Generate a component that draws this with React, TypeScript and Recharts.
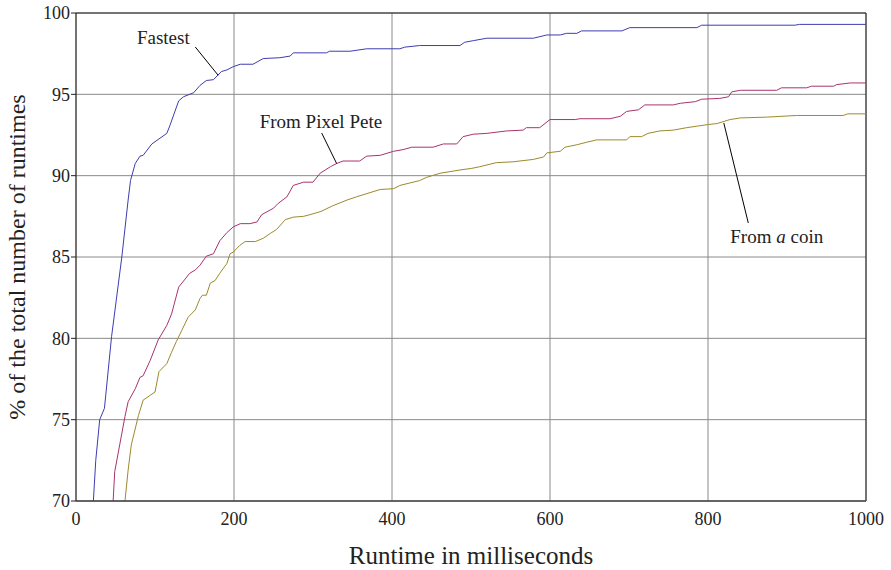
import { LineChart, Line, XAxis, YAxis, CartesianGrid, ReferenceLine, ReferenceDot } from 'recharts';

// runtime (ms) and cumulative % of runtimes
const fastestMs = [22, 25, 30, 36, 45, 58, 66, 69, 75, 81, 85, 96, 115, 119, 130, 136, 149, 157, 165, 174, 184, 191, 199, 208, 224, 237, 258, 271, 275, 317, 321, 347, 368, 410, 416, 435, 486, 492, 503, 520, 579, 596, 613, 621, 634, 640, 691, 701, 786, 792, 910, 916, 1000];
const fastestPct = [70, 72.5, 75.0, 75.7, 80.1, 85.0, 88.5, 89.7, 90.75, 91.2, 91.25, 91.95, 92.6, 93.1, 94.6, 94.85, 95.1, 95.55, 95.85, 95.9, 96.4, 96.5, 96.7, 96.85, 96.85, 97.2, 97.25, 97.35, 97.55, 97.55, 97.65, 97.65, 97.8, 97.8, 97.9, 98.0, 98.0, 98.2, 98.3, 98.45, 98.45, 98.65, 98.65, 98.75, 98.75, 98.9, 98.9, 99.1, 99.1, 99.25, 99.25, 99.3, 99.3];

const peteMs = [47, 49, 62, 66, 75, 81, 85, 94, 104, 115, 121, 130, 144, 151, 157, 165, 174, 182, 191, 199, 208, 220, 229, 235, 250, 256, 267, 275, 288, 300, 309, 322, 330, 338, 359, 368, 385, 402, 414, 425, 452, 465, 482, 490, 503, 520, 545, 566, 570, 587, 600, 632, 638, 676, 689, 697, 712, 720, 756, 765, 784, 792, 815, 826, 830, 841, 887, 893, 925, 931, 959, 963, 980, 1000];
const petePct = [70, 71.8, 75.2, 76.1, 76.9, 77.6, 77.7, 78.65, 79.9, 80.8, 81.5, 83.15, 84.0, 84.2, 84.5, 85.05, 85.2, 86.0, 86.5, 86.85, 87.05, 87.05, 87.15, 87.6, 88.0, 88.3, 88.7, 89.4, 89.6, 89.6, 90.15, 90.55, 90.75, 90.9, 90.9, 91.2, 91.25, 91.5, 91.6, 91.75, 91.75, 91.95, 91.95, 92.4, 92.55, 92.6, 92.75, 92.8, 92.95, 92.95, 93.45, 93.45, 93.5, 93.5, 93.65, 93.95, 94.05, 94.35, 94.35, 94.45, 94.55, 94.7, 94.75, 94.85, 95.15, 95.25, 95.25, 95.4, 95.4, 95.5, 95.5, 95.6, 95.7, 95.7];

const coinMs = [62, 66, 70, 79, 85, 94, 100, 105, 115, 121, 127, 134, 142, 151, 157, 160, 165, 170, 176, 182, 191, 195, 199, 207, 214, 227, 237, 246, 254, 265, 275, 288, 296, 310, 325, 343, 355, 385, 402, 410, 435, 444, 461, 486, 501, 511, 532, 553, 579, 592, 596, 613, 619, 634, 646, 659, 697, 701, 716, 724, 739, 756, 773, 787, 801, 811, 828, 841, 875, 912, 971, 977, 1000];
const coinPct = [70, 71.9, 73.45, 75.25, 76.2, 76.5, 76.7, 77.95, 78.45, 79.15, 79.8, 80.5, 81.3, 81.75, 82.45, 82.65, 82.65, 83.4, 83.55, 84.0, 84.6, 85.2, 85.3, 85.7, 85.95, 85.95, 86.15, 86.45, 86.7, 87.3, 87.45, 87.5, 87.6, 87.8, 88.15, 88.5, 88.7, 89.15, 89.2, 89.4, 89.7, 89.9, 90.15, 90.35, 90.45, 90.55, 90.8, 90.85, 91.0, 91.15, 91.4, 91.5, 91.75, 91.9, 92.05, 92.2, 92.2, 92.4, 92.4, 92.6, 92.75, 92.8, 92.95, 93.05, 93.15, 93.2, 93.45, 93.55, 93.6, 93.7, 93.7, 93.8, 93.8];

const xTicks = [0, 200, 400, 600, 800, 1000];
const yTicks = [70, 75, 80, 85, 90, 95, 100];

const FONT = '"Liberation Serif", Tinos, "Nimbus Roman", "DejaVu Serif", serif';
const INK = '#222';

const toPoints = (ms: number[], pct: number[]) => ms.map((t, i) => ({ t, v: pct[i] }));

// text label whose baseline centre sits on a reference dot; parts can be italic
function Note({ viewBox, parts }: any) {
  if (!viewBox) return null;
  const cx = viewBox.x + (viewBox.width || 0) / 2;
  const cy = viewBox.y + (viewBox.height || 0) / 2;
  return (
    <text x={cx} y={cy} textAnchor="middle" style={{ fontFamily: FONT }} fontSize={19} fill={INK}>
      {parts.map((p: { s: string; i?: boolean }, k: number) => (
        <tspan key={k} fontStyle={p.i ? 'italic' : 'normal'}>{p.s}</tspan>
      ))}
    </text>
  );
}

export default function App() {
  return (
    <div style={{ position: 'absolute', left: 0, top: 0, background: '#fff', fontFamily: FONT }}>
      <LineChart width={891} height={570} margin={{ top: 13, right: 25, bottom: 0, left: 0 }} style={{ fontFamily: FONT }}>
        <CartesianGrid stroke="#8a8a8a" strokeWidth={1} />
        <XAxis
          dataKey="t"
          type="number"
          domain={[0, 1000]}
          ticks={xTicks}
          height={69}
          tickLine={false}
          tickSize={0}
          tickMargin={11}
          axisLine={{ stroke: '#444', strokeWidth: 1.5 }}
          tick={{ fontSize: 18, fill: INK, style: { fontFamily: FONT } }}
          label={{ value: 'Runtime in milliseconds', position: 'insideBottom', offset: 6, style: { fontFamily: FONT, fontSize: 25, fill: INK } }}
        />
        <YAxis
          dataKey="v"
          type="number"
          domain={[70, 100]}
          ticks={yTicks}
          allowDataOverflow
          width={76}
          tickSize={5}
          tickMargin={1}
          tickLine={{ stroke: INK }}
          axisLine={{ stroke: INK }}
          tick={{ fontSize: 18, fill: INK, style: { fontFamily: FONT } }}
          label={{ value: '% of the total number of runtimes', angle: -90, position: 'insideLeft', offset: 16, style: { textAnchor: 'middle', fontFamily: FONT, fontSize: 24, fill: INK } }}
        />
        <ReferenceLine y={100} stroke={INK} />
        <ReferenceLine x={1000} stroke={INK} />

        <Line data={toPoints(fastestMs, fastestPct)} dataKey="v" type="linear" stroke="#3d3db0" strokeWidth={1} dot={false} isAnimationActive={false} />
        <Line data={toPoints(peteMs, petePct)} dataKey="v" type="linear" stroke="#a8336f" strokeWidth={1} dot={false} isAnimationActive={false} />
        <Line data={toPoints(coinMs, coinPct)} dataKey="v" type="linear" stroke="#9c8a2c" strokeWidth={1} dot={false} isAnimationActive={false} />

        <ReferenceLine segment={[{ x: 151, y: 97.91 }, { x: 180, y: 96.17 }]} stroke="#000" />
        <ReferenceLine segment={[{ x: 311, y: 92.62 }, { x: 330, y: 90.74 }]} stroke="#000" />
        <ReferenceLine segment={[{ x: 820, y: 93.24 }, { x: 851, y: 87.09 }]} stroke="#000" />

        <ReferenceDot x={110.5} y={98.08} r={0} fill="none" stroke="none" label={(p: any) => <Note {...p} parts={[{ s: 'Fastest' }]} />} />
        <ReferenceDot x={310} y={92.93} r={0} fill="none" stroke="none" label={(p: any) => <Note {...p} parts={[{ s: 'From Pixel Pete' }]} />} />
        <ReferenceDot x={887} y={85.83} r={0} fill="none" stroke="none" label={(p: any) => <Note {...p} parts={[{ s: 'From ' }, { s: 'a', i: true }, { s: ' coin' }]} />} />
      </LineChart>
    </div>
  );
}
